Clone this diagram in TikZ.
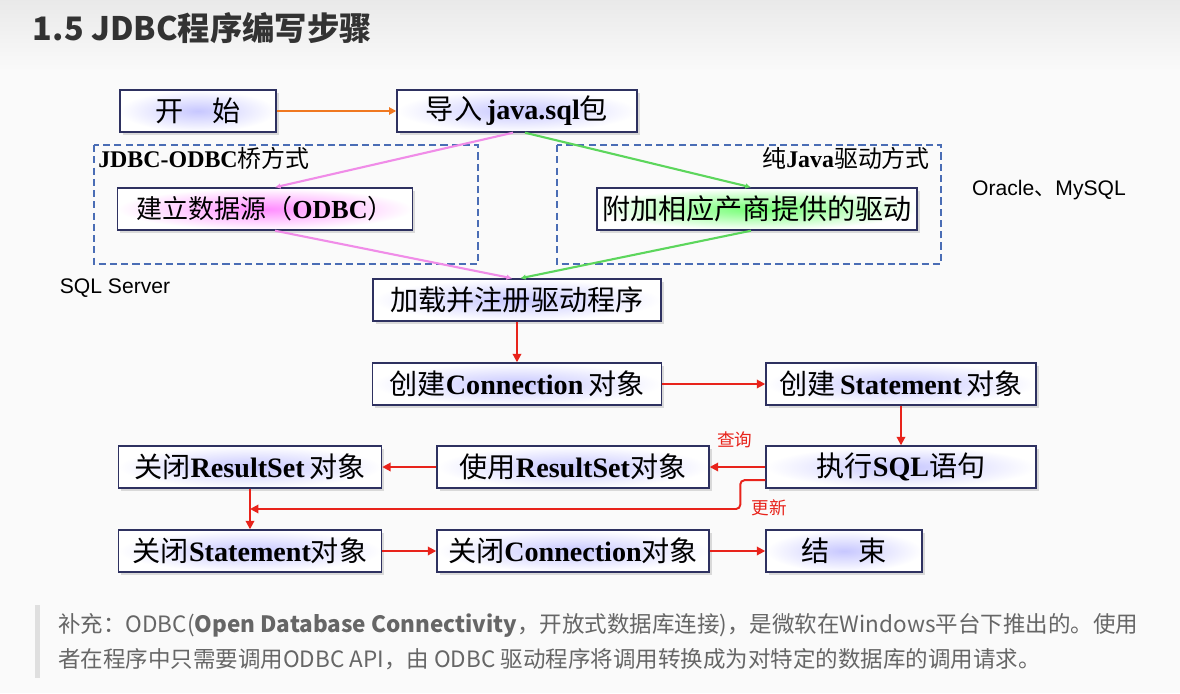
\documentclass[tikz,border=0pt]{standalone}
\usepackage{fontspec}
\setmainfont{Liberation Serif}
\newfontfamily\cjk{Noto Sans CJK SC}
\newfontfamily\arialfont{Liberation Sans}
\usetikzlibrary{arrows.meta,shadows,calc}
\definecolor{boxline}{HTML}{2E3160}
\definecolor{dashblue}{HTML}{4A6DB5}
\definecolor{flowred}{HTML}{E8231B}
\definecolor{flowpink}{HTML}{F08CE8}
\definecolor{flowgreen}{HTML}{5CD65C}
\definecolor{startorange}{HTML}{F07820}
\definecolor{notegray}{HTML}{666666}
\newcommand{\zh}[1]{{\cjk #1}}

\tikzset{
  stepbox/.style={
    draw=boxline,
    line width=1pt,
    inner color=#1,
    outer color=white,
    minimum height=1.05cm,
    inner sep=2pt,
    drop shadow={shadow xshift=2pt, shadow yshift=-2pt, fill=gray!55},
    font=\fontsize{20}{22}\selectfont
  },
  stepbox/.default={blue!22},
  groupbox/.style={draw=dashblue, line width=1.3pt, dash pattern=on 5pt off 3pt},
  grouplabel/.style={font=\fontsize{17}{19}\selectfont, inner sep=0pt},
  flowarrow/.style={draw=flowred, line width=1.4pt, -{Triangle[length=6pt,width=6pt]}},
  flowlabel/.style={text=flowred, font=\cjk\fontsize{12.5}{14}\selectfont, inner sep=0pt},
  pinkline/.style={draw=flowpink, line width=1.5pt, -{Latex[length=4pt,width=4pt]}},
  greenline/.style={draw=flowgreen, line width=1.5pt, -{Latex[length=4pt,width=4pt]}},
  sidenote/.style={font=\arialfont\fontsize{15}{17}\selectfont, inner sep=0pt}
}

\begin{document}
\begin{tikzpicture}[x=0.025cm, y=-0.025cm]
  \useasboundingbox (0,0) rectangle (1180,693);
  \fill[white!98!black] (0,0) rectangle (1180,693);
  \shade[top color=gray!17, bottom color=white!98!black] (0,0) rectangle (1180,70);

  % title
  \node[anchor=west, text=black!80, font=\cjk\bfseries\fontsize{23}{26}\selectfont] (title) at (28,28) {1.5 JDBC程序编写步骤};

  % the two ways of loading a driver
  \draw[groupbox] (94,145) rectangle (478,264);
  \draw[groupbox] (557,145) rectangle (941,264);
  \node[grouplabel, anchor=west] (bridgeway) at (98,158) {\textbf{JDBC-ODBC}\zh{桥方式}};
  \node[grouplabel, anchor=east] (javaway) at (930,158) {\zh{纯}\textbf{Java}\zh{驱动方式}};

  % steps
  \node[stepbox, minimum width=3.9cm] (start) at (198,111) {\zh{开\quad 始}};
  \node[stepbox, minimum width=6cm] (import) at (517,111) {\zh{导入}\,\textbf{java.sql}\zh{包}};
  \node[stepbox=magenta!45, minimum width=7.375cm, font=\fontsize{18.5}{20}\selectfont] (odbc) at (265,209) {\zh{建立数据源（}\textbf{ODBC}\zh{）}};
  \node[stepbox=green!55, minimum width=8cm] (driver) at (757,209) {\zh{附加相应产商提供的驱动}};
  \node[stepbox, minimum width=7.2cm] (load) at (517,300) {\zh{加载并注册驱动程序}};
  \node[stepbox, minimum width=7.225cm] (conn) at (517,384) {\zh{创建}\textbf{Connection}\,\zh{对象}};
  \node[stepbox, minimum width=6.75cm] (stmt) at (901,384) {\zh{创建}\,\textbf{Statement}\,\zh{对象}};
  \node[stepbox, minimum width=6.75cm] (exec) at (901,467) {\zh{执行}\textbf{SQL}\zh{语句}};
  \node[stepbox, minimum width=6.8cm] (useRS) at (573,467) {\zh{使用}\textbf{ResultSet}\zh{对象}};
  \node[stepbox, minimum width=6.575cm] (closeRS) at (250,467) {\zh{关闭}\textbf{ResultSet}\,\zh{对象}};
  \node[stepbox, minimum width=6.575cm] (closeStmt) at (250,551) {\zh{关闭}\textbf{Statement}\zh{对象}};
  \node[stepbox, minimum width=6.8cm] (closeConn) at (573,551) {\zh{关闭}\textbf{Connection}\zh{对象}};
  \node[stepbox, minimum width=3.9cm] (finish) at (844,551) {\zh{结\quad 束}};

  % side notes
  \node[sidenote] (oracle) at (1049,190) {Oracle\zh{、}MySQL};
  \node[sidenote] (sqlserver) at (115,288) {SQL Server};

  % connectors
  \draw[draw=startorange, line width=1.3pt, -{Triangle[length=5pt,width=5pt]}] (start) -- (import);
  \draw[pinkline] ([xshift=-0.1cm]import.south) -- ([xshift=0.25cm]odbc.north);
  \draw[pinkline] ([xshift=0.25cm]odbc.south) -- ([xshift=-0.12cm]load.north);
  \draw[greenline] ([xshift=0.2cm]import.south) -- ([xshift=-0.15cm]driver.north);
  \draw[greenline] ([xshift=-0.15cm]driver.south) -- ([xshift=0.08cm]load.north);
  \draw[flowarrow] (load) -- (conn);
  \draw[flowarrow] (conn) -- (stmt);
  \draw[flowarrow] (stmt) -- (exec);
  \draw[flowarrow] (exec) -- (useRS) node[flowlabel, pos=0.55, yshift=0.67cm] (querylbl) {查询};
  \draw[flowarrow] (useRS) -- (closeRS);
  \coordinate (mergept) at ($(closeRS.south)!0.5!(closeStmt.north)$);
  \draw[flowarrow] (closeRS) -- (closeStmt);
  \draw[flowarrow, rounded corners=3pt] ([yshift=-0.33cm]exec.west) -- ++(-25,0) coordinate (bend) |- (mergept);
  \node[flowlabel] (updatelbl) at ([xshift=0.73cm, yshift=-0.68cm]bend) {更新};
  \draw[flowarrow] (closeStmt) -- (closeConn);
  \draw[flowarrow] (closeConn) -- (finish);

  % remark
  \fill[gray!25] (35,605) rectangle (40,678);
  \node[anchor=west, text=notegray, font=\cjk\fontsize{16}{19}\selectfont, inner sep=0pt] (remark1) at (58,625)
    {补充：ODBC({\bfseries Open Database Connectivity}，开放式数据库连接)，是微软在Windows平台下推出的。使用};
  \node[anchor=west, text=notegray, font=\cjk\fontsize{16}{19}\selectfont, inner sep=0pt] (remark2) at (58,659)
    {者在程序中只需要调用ODBC API，由 ODBC 驱动程序将调用转换成为对特定的数据库的调用请求。};
\end{tikzpicture}
\end{document}
